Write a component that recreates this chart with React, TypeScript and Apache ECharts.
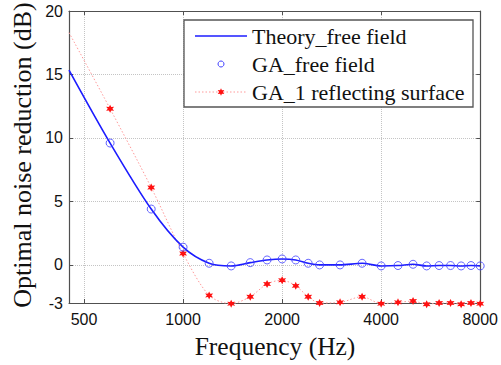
import React, { useEffect, useRef } from "react";
import * as echarts from "echarts";

// ---- data ----
const frequencies = [600, 800, 1000, 1200, 1400, 1600, 1800, 2000, 2200, 2400, 2600, 3000, 3500, 4000, 4500, 5000, 5500, 6000, 6500, 7000, 7500, 8000];
const gaFreeField = [9.6, 4.4, 1.4, 0.13, -0.08, 0.18, 0.39, 0.47, 0.39, 0.13, 0, 0, 0.13, -0.08, -0.05, 0.05, -0.08, -0.05, -0.05, -0.08, -0.05, -0.08];
const gaReflecting = [12.3, 6.1, 0.9, -2.4, -3.05, -2.5, -1.5, -1.2, -1.65, -2.5, -3.0, -2.95, -2.5, -3.05, -2.95, -2.85, -3.1, -3.0, -3.0, -3.1, -3.0, -3.05];
const theoryFrequencies = [450, ...frequencies];
const theoryValues = [15.35, ...gaFreeField];
const reflectingStartFreq = 450;
const reflectingStartValue = 18.3;

const xTickFreqs = [500, 1000, 2000, 4000, 8000];
const xTickLabels = ["500", "1000", "2000", "4000", "8000"];
const yTicks = [-3, 0, 5, 10, 15, 20];
const X_MIN_FREQ = 450;
const X_MAX_FREQ = 8000;
const Y_MIN = -3;
const Y_MAX = 20;

const SERIES_NAMES = ["Theory_free field", "GA_free field", "GA_1 reflecting surface"];
const X_TITLE = "Frequency (Hz)";
const Y_TITLE = "Optimal noise reduction (dB)";

const toU = (f: number) => Math.log2(f / 500);

const STAR = "path://M0,-10 L2.5,-4.33 L8.66,-5 L5,0 L8.66,5 L2.5,4.33 L0,10 L-2.5,4.33 L-8.66,5 L-5,0 L-8.66,-5 L-2.5,-4.33 Z";

const starPoints = (cx: number, cy: number, r: number) => {
  const pts: number[][] = [];
  for (let k = 0; k < 12; k++) {
    const a = -Math.PI / 2 + (k * Math.PI) / 6;
    const rr = k % 2 === 0 ? r : r * 0.5;
    pts.push([cx + rr * Math.cos(a), cy + rr * Math.sin(a)]);
  }
  return pts;
};

const BLUE_LINE = "#1c1cff";
const BLUE_MARK = "#4040ff";
const RED_LINE = "#ff9a9a";
const RED_MARK = "#ff1010";

export default function App() {
  const ref = useRef<HTMLDivElement>(null);

  useEffect(() => {
    if (!ref.current) return;
    const chart = echarts.init(ref.current, undefined, { renderer: "svg" });

    const xCustom = xTickFreqs.map(toU);
    const frameColor = "#505050";
    const labelFont = { fontFamily: "Liberation Sans", fontSize: 16, color: "#111" };

    const reflectData: any[] = [
      { value: [toU(reflectingStartFreq), reflectingStartValue], symbol: "none" },
      ...frequencies.map((f, i) => [toU(f), gaReflecting[i]]),
    ];

    // legend layout
    const lgX = 184, lgY = 20, lgW = 289, lgH = 87;
    const rowY = [36, 64, 92];
    const sampleX1 = 195, sampleX2 = 247, sampleMid = 221, textX = 252;
    const legendText = (i: number) => ({
      type: "text",
      x: textX,
      y: rowY[i],
      z: 12,
      style: {
        text: SERIES_NAMES[i],
        fontFamily: "Liberation Serif",
        fontSize: 22,
        fill: "#111",
        align: "left",
        verticalAlign: "middle",
      },
    });

    const option: any = {
      animation: false,
      backgroundColor: "#fff",
      grid: { left: 69, right: 20, top: 11, bottom: 62, containLabel: false },
      xAxis: [
        {
          type: "value",
          position: "bottom",
          min: toU(X_MIN_FREQ),
          max: toU(X_MAX_FREQ),
          axisLine: { show: true, onZero: false, lineStyle: { color: frameColor, width: 1.2 } },
          axisTick: { show: true, inside: true, length: 4, customValues: xCustom, lineStyle: { color: frameColor } },
          axisLabel: {
            show: true,
            customValues: xCustom,
            margin: 8,
            ...labelFont,
            formatter: (v: number) => {
              const idx = xCustom.findIndex((c) => Math.abs(c - v) < 1e-6);
              return idx >= 0 ? xTickLabels[idx] : "";
            },
          },
          splitLine: { show: true, lineStyle: { type: "dotted", color: "#c4c4c4", width: 1 } },
        },
        {
          type: "value",
          position: "top",
          min: toU(X_MIN_FREQ),
          max: toU(X_MAX_FREQ),
          axisLine: { show: true, onZero: false, lineStyle: { color: frameColor, width: 1.2 } },
          axisTick: { show: true, inside: true, length: 4, customValues: xCustom, lineStyle: { color: frameColor } },
          axisLabel: { show: false },
          splitLine: { show: false },
        },
      ],
      yAxis: [
        {
          type: "value",
          position: "left",
          min: Y_MIN,
          max: Y_MAX,
          axisLine: { show: true, onZero: false, lineStyle: { color: frameColor, width: 1.2 } },
          axisTick: { show: true, inside: true, length: 4, customValues: yTicks, lineStyle: { color: frameColor } },
          axisLabel: { show: true, customValues: yTicks, margin: 6, ...labelFont },
          splitLine: { show: true, lineStyle: { type: "dotted", color: "#c4c4c4", width: 1 } },
        },
        {
          type: "value",
          position: "right",
          min: Y_MIN,
          max: Y_MAX,
          axisLine: { show: true, onZero: false, lineStyle: { color: frameColor, width: 1.2 } },
          axisTick: { show: true, inside: true, length: 4, customValues: yTicks, lineStyle: { color: frameColor } },
          axisLabel: { show: false },
          splitLine: { show: false },
        },
      ],
      graphic: [
        {
          type: "text",
          x: 275,
          y: 346,
          z: 12,
          style: { text: X_TITLE, fontFamily: "Liberation Serif", fontSize: 25.5, fill: "#111", align: "center", verticalAlign: "middle" },
        },
        {
          type: "text",
          x: 22.5,
          y: 155,
          rotation: Math.PI / 2,
          z: 12,
          style: { text: Y_TITLE, fontFamily: "Liberation Serif", fontSize: 26, fill: "#111", align: "center", verticalAlign: "middle" },
        },
        {
          type: "rect",
          z: 10,
          shape: { x: lgX, y: lgY, width: lgW, height: lgH },
          style: { fill: "#fff", stroke: "#555", lineWidth: 1.3 },
        },
        {
          type: "line",
          z: 11,
          shape: { x1: sampleX1, y1: rowY[0], x2: sampleX2, y2: rowY[0] },
          style: { stroke: BLUE_LINE, lineWidth: 1.4 },
        },
        {
          type: "circle",
          z: 11,
          shape: { cx: sampleMid, cy: rowY[1], r: 3 },
          style: { fill: "none", stroke: BLUE_MARK, lineWidth: 1 },
        },
        {
          type: "line",
          z: 11,
          shape: { x1: sampleX1, y1: rowY[2], x2: sampleX2, y2: rowY[2] },
          style: { stroke: RED_LINE, lineWidth: 1, lineDash: [1.5, 2] },
        },
        {
          type: "polygon",
          z: 11,
          shape: { points: starPoints(sampleMid, rowY[2], 3.8) },
          style: { fill: RED_MARK },
        },
        legendText(0),
        legendText(1),
        legendText(2),
      ],
      series: [
        {
          name: SERIES_NAMES[0],
          type: "line",
          data: theoryFrequencies.map((f, i) => [toU(f), theoryValues[i]]),
          symbol: "none",
          showSymbol: false,
          smooth: 0.3,
          lineStyle: { color: BLUE_LINE, width: 1.6 },
          itemStyle: { color: BLUE_LINE },
          z: 3,
        },
        {
          name: SERIES_NAMES[1],
          type: "scatter",
          data: frequencies.map((f, i) => [toU(f), gaFreeField[i]]),
          symbol: "circle",
          symbolSize: 8,
          itemStyle: { color: "rgba(0,0,0,0)", borderColor: BLUE_MARK, borderWidth: 1 },
          z: 4,
        },
        {
          name: SERIES_NAMES[2],
          type: "line",
          data: reflectData,
          symbol: STAR,
          symbolSize: 8,
          showSymbol: true,
          smooth: 0.3,
          clip: false,
          lineStyle: { color: RED_LINE, width: 1, type: [1.5, 2] },
          itemStyle: { color: RED_MARK },
          z: 2,
        },
      ],
    };

    chart.setOption(option);
    return () => chart.dispose();
  }, []);

  return (
    <div
      ref={ref}
      style={{ position: "fixed", left: 0, top: 0, width: 501, height: 365, background: "#fff" }}
    />
  );
}
